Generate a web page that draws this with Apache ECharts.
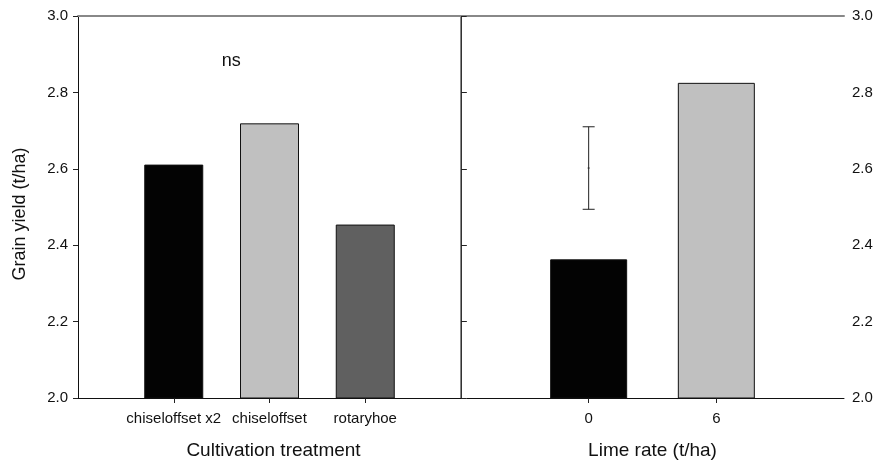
<!DOCTYPE html>
<html><head><meta charset="utf-8">
<script src="https://cdn.jsdelivr.net/npm/echarts@6/dist/echarts.min.js"></script>
<style>html,body{margin:0;padding:0;background:#fff}#c{width:877px;height:465px}</style>
</head><body><div id="c"></div>
<script>
// ---- data ----
const cultivationCategories = ['chiseloffset x2', 'chiseloffset', 'rotaryhoe'];
const cultivationYield = [2.611, 2.719, 2.454];
const cultivationColors = ['#030303', '#c0c0c0', '#606060'];
const limeCategories = ['0', '6'];
const limeYield = [2.363, 2.825];
const limeColors = ['#030303', '#c0c0c0'];
const lsdBar = [[1, 2.494, 2.710, 2.602]]; // x position (lime index+1), low, high, centre
const nsNote = [[1.6, 2.883, 'ns']];
const yMin = 2.0, yMax = 3.0, yStep = 0.2;

const FONT = 'Liberation Sans, Arial, sans-serif';
const chart = echarts.init(document.getElementById('c'), null, {renderer: 'canvas'});

const cultPos = cultivationCategories.map((_, i) => i + 1);
const limePos = limeCategories.map((_, i) => i + 1);

const baseY = {
  type: 'value', min: yMin, max: yMax, interval: yStep,
  splitLine: {show: false},
  axisLabel: {formatter: v => v.toFixed(1), color: '#111', fontSize: 15, fontFamily: FONT},
  axisTick: {length: 5, lineStyle: {color: '#222'}}
};

const option = {
  backgroundColor: '#fff',
  animation: false,
  grid: [
    {left: 78, width: 383, top: 16, height: 384},
    {left: 461, width: 383, top: 16, height: 384}
  ],
  xAxis: [
    {
      gridIndex: 0, type: 'value', min: 0, max: cultivationCategories.length + 1, interval: 1,
      position: 'bottom',
      splitLine: {show: false},
      axisLine: {lineStyle: {color: '#111', width: 1}},
      axisTick: {customValues: cultPos, length: 5, lineStyle: {color: '#222'}},
      axisLabel: {customValues: cultPos, formatter: v => cultivationCategories[v - 1] || '',
        margin: 13, fontSize: 15, color: '#111', fontFamily: FONT},
      name: 'Cultivation treatment', nameLocation: 'middle', nameGap: 43,
      nameTextStyle: {fontSize: 19, color: '#111', fontFamily: FONT, padding: [0, 0, 0, 8]}
    },
    {
      gridIndex: 0, type: 'value', min: 0, max: cultivationCategories.length + 1, position: 'top',
      splitLine: {show: false}, axisTick: {show: false}, axisLabel: {show: false},
      axisLine: {lineStyle: {color: '#888', width: 2}}
    },
    {
      gridIndex: 1, type: 'value', min: 0, max: limeCategories.length + 1, interval: 1,
      position: 'bottom',
      splitLine: {show: false},
      axisLine: {lineStyle: {color: '#111', width: 1}},
      axisTick: {customValues: limePos, length: 5, lineStyle: {color: '#222'}},
      axisLabel: {customValues: limePos, formatter: v => limeCategories[v - 1] || '',
        margin: 13, fontSize: 15, color: '#111', fontFamily: FONT},
      name: 'Lime rate (t/ha)', nameLocation: 'middle', nameGap: 43,
      nameTextStyle: {fontSize: 19, color: '#111', fontFamily: FONT}
    },
    {
      gridIndex: 1, type: 'value', min: 0, max: limeCategories.length + 1, position: 'top',
      splitLine: {show: false}, axisTick: {show: false}, axisLabel: {show: false},
      axisLine: {lineStyle: {color: '#888', width: 2}}
    }
  ],
  yAxis: [
    Object.assign({}, baseY, {
      gridIndex: 0, position: 'left',
      axisLine: {show: true, lineStyle: {color: '#111', width: 1}},
      axisLabel: Object.assign({}, baseY.axisLabel, {margin: 10}),
      name: 'Grain yield (t/ha)', nameLocation: 'middle', nameGap: 49,
      nameTextStyle: {fontSize: 18, color: '#111', fontFamily: FONT, padding: [0, 14, 0, 0]}
    }),
    Object.assign({}, baseY, {
      gridIndex: 1, position: 'left',
      axisLine: {show: true, lineStyle: {color: '#888', width: 2}},
      axisTick: {inside: true, length: 6, lineStyle: {color: '#444'}},
      axisLabel: {show: false}
    }),
    Object.assign({}, baseY, {
      gridIndex: 1, position: 'right',
      axisLine: {show: true, lineStyle: {color: '#333', width: 1}},
      axisLabel: Object.assign({}, baseY.axisLabel, {margin: 8})
    })
  ],
  series: [
    {
      type: 'bar', xAxisIndex: 0, yAxisIndex: 0, barWidth: 59,
      data: cultivationYield.map((v, i) => ({value: [cultPos[i], v],
        itemStyle: {color: cultivationColors[i], borderColor: '#111', borderWidth: 1}}))
    },
    {
      type: 'bar', xAxisIndex: 2, yAxisIndex: 1, barWidth: 77,
      data: limeYield.map((v, i) => ({value: [limePos[i], v],
        itemStyle: {color: limeColors[i], borderColor: '#111', borderWidth: 1}}))
    },
    {
      type: 'custom', xAxisIndex: 2, yAxisIndex: 1, data: lsdBar,
      renderItem: (params, api) => {
        const x = api.value(0);
        const lo = api.coord([x, api.value(1)]);
        const hi = api.coord([x, api.value(2)]);
        const mid = api.coord([x, api.value(3)]);
        const cap = 6;
        const st = {stroke: '#222', lineWidth: 1};
        return {type: 'group', children: [
          {type: 'line', shape: {x1: lo[0], y1: lo[1], x2: hi[0], y2: hi[1]}, style: st},
          {type: 'line', shape: {x1: hi[0] - cap, y1: hi[1], x2: hi[0] + cap, y2: hi[1]}, style: st},
          {type: 'line', shape: {x1: lo[0] - cap, y1: lo[1], x2: lo[0] + cap, y2: lo[1]}, style: st},
          {type: 'line', shape: {x1: mid[0] - 1, y1: mid[1], x2: mid[0] + 1, y2: mid[1]}, style: st}
        ]};
      }
    },
    {
      type: 'custom', xAxisIndex: 0, yAxisIndex: 0, data: nsNote,
      renderItem: (params, api) => {
        const p = api.coord([api.value(0), api.value(1)]);
        return {type: 'text', x: p[0], y: p[1], style: {text: nsNote[params.dataIndex][2],
          fontSize: 18, fontFamily: FONT, fill: '#111', align: 'center', verticalAlign: 'middle'}};
      }
    }
  ]
};
chart.setOption(option);
</script>
</body></html>
